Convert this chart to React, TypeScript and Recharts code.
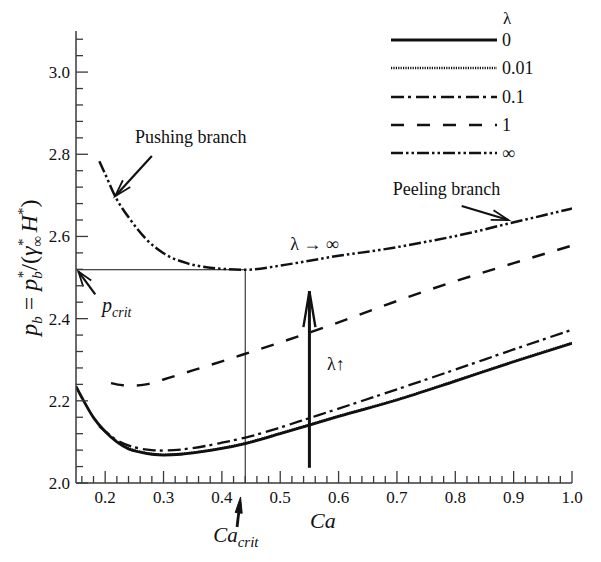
import React from 'react';
import { LineChart, Line, XAxis, YAxis, ReferenceLine, ReferenceDot, Legend } from 'recharts';

// ---- data ----
const ca0 = [0.15, 0.16, 0.18, 0.20, 0.22, 0.24, 0.26, 0.28, 0.30, 0.33, 0.36, 0.40, 0.44, 0.50, 0.55, 0.60, 0.70, 0.80, 0.90, 1.00];
const p0 = [2.235, 2.208, 2.159, 2.125, 2.100, 2.083, 2.075, 2.070, 2.068, 2.070, 2.075, 2.084, 2.096, 2.120, 2.141, 2.162, 2.202, 2.248, 2.295, 2.340];

const ca001 = [0.19, 0.20, 0.22, 0.24, 0.26, 0.28, 0.30, 0.33, 0.36, 0.40, 0.44, 0.50, 0.55, 0.60, 0.70, 0.80, 0.90, 1.00];
const p001 = [2.140, 2.126, 2.101, 2.085, 2.076, 2.071, 2.069, 2.071, 2.076, 2.085, 2.097, 2.121, 2.142, 2.163, 2.203, 2.249, 2.296, 2.341];

const ca01 = [0.19, 0.20, 0.22, 0.25, 0.28, 0.30, 0.35, 0.40, 0.45, 0.50, 0.55, 0.60, 0.70, 0.80, 0.90, 1.00];
const p01 = [2.138, 2.126, 2.104, 2.087, 2.080, 2.079, 2.085, 2.098, 2.114, 2.135, 2.158, 2.181, 2.228, 2.276, 2.325, 2.373];

const ca1 = [0.21, 0.23, 0.25, 0.27, 0.30, 0.35, 0.40, 0.45, 0.50, 0.55, 0.60, 0.65, 0.70, 0.80, 0.90, 1.00];
const p1 = [2.243, 2.238, 2.237, 2.240, 2.252, 2.274, 2.296, 2.319, 2.342, 2.366, 2.391, 2.417, 2.443, 2.491, 2.535, 2.578];

const caInf = [0.19, 0.20, 0.217, 0.243, 0.27, 0.30, 0.34, 0.38, 0.44, 0.50, 0.55, 0.60, 0.67, 0.75, 0.82, 0.89, 0.95, 1.00];
const pInf = [2.783, 2.752, 2.698, 2.641, 2.594, 2.559, 2.535, 2.524, 2.519, 2.529, 2.541, 2.553, 2.567, 2.587, 2.607, 2.631, 2.651, 2.668];

const seriesNames = ['0', '0.01', '0.1', '1', '∞'];

const xTicks = [0.16, 0.18, 0.2, 0.22, 0.24, 0.26, 0.28, 0.3, 0.32, 0.34, 0.36, 0.38, 0.4, 0.42, 0.44, 0.46, 0.48, 0.5,
  0.52, 0.54, 0.56, 0.58, 0.6, 0.62, 0.64, 0.66, 0.68, 0.7, 0.72, 0.74, 0.76, 0.78, 0.8, 0.82, 0.84, 0.86, 0.88, 0.9,
  0.92, 0.94, 0.96, 0.98, 1.0];
const yTicks = [2.0, 2.04, 2.08, 2.12, 2.16, 2.2, 2.24, 2.28, 2.32, 2.36, 2.4, 2.44, 2.48, 2.52, 2.56, 2.6, 2.64, 2.68,
  2.72, 2.76, 2.8, 2.84, 2.88, 2.92, 2.96, 3.0, 3.04, 3.08];

const caCrit = 0.44;
const pCrit = 2.519;

// ---- styles ----
const FONT = "'Liberation Serif', 'Times New Roman', serif";
const INK = '#111';
const AXIS = '#3a3a3a';

const build = (xs: number[], ys: number[]) => xs.map((ca, i) => ({ ca, p: ys[i] }));
const seriesData = [build(ca0, p0), build(ca001, p001), build(ca01, p01), build(ca1, p1), build(caInf, pInf)];
const seriesStyle = [
  { dash: undefined as string | undefined, w: 2.8 },
  { dash: '1.2 1.2', w: 2.4 },
  { dash: '13 4 3 5', w: 2.3 },
  { dash: '13 13', w: 2.5 },
  { dash: '12 3 2.5 3 2.5 3', w: 2.5 },
];

const XTick = (props: any) => {
  const { x, y, payload } = props;
  const v = payload.value as number;
  const major = Math.abs(v * 10 - Math.round(v * 10)) < 1e-6;
  return (
    <g>
      <line x1={x} y1={y} x2={x} y2={y - (major ? 12 : 7)} stroke={AXIS} strokeWidth={1.3} />
      {major && (
        <text x={x} y={y + 20} textAnchor="middle" style={{ fontFamily: FONT }} fontSize={17} fill={INK}>
          {v.toFixed(1)}
        </text>
      )}
    </g>
  );
};

const YTick = (props: any) => {
  const { x, y, payload } = props;
  const v = payload.value as number;
  const k = (v - 2.0) / 0.2;
  const major = Math.abs(k - Math.round(k)) < 1e-6;
  return (
    <g>
      <line x1={x} y1={y} x2={x + (major ? 12 : 7)} y2={y} stroke={AXIS} strokeWidth={1.3} />
      {major && (
        <text x={x - 6} y={y + 6} textAnchor="end" style={{ fontFamily: FONT }} fontSize={17} fill={INK}>
          {v.toFixed(1)}
        </text>
      )}
    </g>
  );
};

const makeArrow = (len: number, halfW: number, w: number, filled = false) => (props: any) => {
  const { x1, y1, x2, y2 } = props;
  const dx = x2 - x1;
  const dy = y2 - y1;
  const d = Math.hypot(dx, dy) || 1;
  const ux = dx / d;
  const uy = dy / d;
  const bx = x2 - ux * len;
  const by = y2 - uy * len;
  const px = -uy * halfW;
  const py = ux * halfW;
  return (
    <g>
      <line x1={x1} y1={y1} x2={filled ? bx : x2} y2={filled ? by : y2} stroke={INK} strokeWidth={w} />
      <path
        d={`M${bx + px},${by + py} L${x2},${y2} L${bx - px},${by - py}${filled ? ' Z' : ''}`}
        fill={filled ? INK : 'none'}
        stroke={INK}
        strokeWidth={filled ? 1 : w * 0.8}
        strokeLinejoin="miter"
      />
    </g>
  );
};

const textAt = (content: React.ReactNode, anchor: string = 'start', size = 18, italic = false, rotate = 0) =>
  (props: any) => (
    <text
      x={props.cx}
      y={props.cy}
      textAnchor={anchor}
      style={{ fontFamily: FONT }}
      fontSize={size}
      fontStyle={italic ? 'italic' : 'normal'}
      fill={INK}
      transform={rotate ? `rotate(${rotate} ${props.cx} ${props.cy})` : undefined}
    >
      {content}
    </text>
  );

const yLabel = (
  <>
    <tspan fontStyle="italic">p</tspan>
    <tspan fontStyle="italic" fontSize={15} dy={5}>b</tspan>
    <tspan dy={-5}> = </tspan>
    <tspan fontStyle="italic">p</tspan>
    <tspan fontStyle="italic" fontSize={15} dy={5}>b</tspan>
    <tspan fontSize={15} dx={-7} dy={-14}>*</tspan>
    <tspan dy={9}>/(</tspan>
    <tspan fontStyle="italic">γ</tspan>
    <tspan fontSize={15} dy={5}>∞</tspan>
    <tspan fontSize={15} dx={-10} dy={-14}>*</tspan>
    <tspan dy={9} fontStyle="italic"> H</tspan>
    <tspan fontSize={15} dy={-9}>*</tspan>
    <tspan dy={9}>)</tspan>
  </>
);

const LegendBox = () => {
  const rows = [40, 68, 97, 125, 153];
  return (
    <svg width={601} height={175} style={{ overflow: 'visible' }}>
      <text x={507} y={24} textAnchor="middle" style={{ fontFamily: FONT }} fontSize={17} fill={INK}>λ</text>
      {seriesNames.map((n, i) => (
        <g key={n}>
          <line x1={391} y1={rows[i]} x2={497} y2={rows[i]} stroke={INK}
            strokeWidth={seriesStyle[i].w} strokeDasharray={seriesStyle[i].dash} />
          <text x={502} y={rows[i] + 6} style={{ fontFamily: FONT }} fontSize={18} fill={INK}>{n}</text>
        </g>
      ))}
    </svg>
  );
};

export default function App() {
  return (
    <div style={{ position: 'absolute', left: 0, top: 0, width: 601, height: 562, background: '#fff' }}>
      <LineChart width={601} height={562} margin={{ top: 31, right: 29, bottom: 78, left: 75 }}>
        <XAxis
          type="number"
          dataKey="ca"
          domain={[0.15, 1.0]}
          allowDataOverflow
          ticks={xTicks}
          interval={0}
          tickSize={0}
          tickMargin={0}
          tickLine={false}
          tick={<XTick />}
          height={1}
          axisLine={{ stroke: AXIS, strokeWidth: 1.5 }}
        />
        <YAxis
          type="number"
          dataKey="p"
          domain={[2.0, 3.1]}
          allowDataOverflow
          ticks={yTicks}
          interval={0}
          tickSize={0}
          tickMargin={0}
          tickLine={false}
          tick={<YTick />}
          width={1}
          axisLine={{ stroke: AXIS, strokeWidth: 1.5 }}
        />
        <Legend layout="vertical" align="center" verticalAlign="middle" content={<LegendBox />}
          wrapperStyle={{ position: 'absolute', left: 0, top: 0, width: 601, height: 175 }} />

        <ReferenceLine segment={[{ x: 0.15, y: pCrit }, { x: caCrit, y: pCrit }]} stroke={INK} strokeWidth={1} ifOverflow="visible" />
        <ReferenceLine segment={[{ x: caCrit, y: 2.0 }, { x: caCrit, y: pCrit }]} stroke={INK} strokeWidth={1} ifOverflow="visible" />

        {seriesData.map((d, i) => (
          <Line
            key={seriesNames[i]}
            name={seriesNames[i]}
            data={d}
            dataKey="p"
            type="monotone"
            stroke={INK}
            strokeWidth={seriesStyle[i].w}
            strokeDasharray={seriesStyle[i].dash}
            dot={false}
            activeDot={false}
            isAnimationActive={false}
          />
        ))}

        {/* arrows */}
        <ReferenceLine segment={[{ x: 0.55, y: 2.037 }, { x: 0.55, y: 2.467 }]} ifOverflow="visible" shape={makeArrow(36, 6, 3)} />
        <ReferenceLine segment={[{ x: 0.280, y: 2.796 }, { x: 0.217, y: 2.698 }]} ifOverflow="visible" shape={makeArrow(17, 5, 2.2)} />
        <ReferenceLine segment={[{ x: 0.811, y: 2.674 }, { x: 0.891, y: 2.640 }]} ifOverflow="visible" shape={makeArrow(17, 5, 2.2)} />
        <ReferenceLine segment={[{ x: 0.183, y: 2.459 }, { x: 0.154, y: 2.515 }]} ifOverflow="visible" shape={makeArrow(15, 5, 2.2)} />
        <ReferenceLine segment={[{ x: 0.426, y: 1.893 }, { x: 0.432, y: 1.966 }]} ifOverflow="visible" shape={makeArrow(16, 3.5, 2.8, true)} />

        {/* labels */}
        <ReferenceDot x={0.251} y={2.827} ifOverflow="visible" shape={textAt('Pushing branch')} />
        <ReferenceDot x={0.693} y={2.700} ifOverflow="visible" shape={textAt('Peeling branch')} />
        <ReferenceDot x={0.517} y={2.566} ifOverflow="visible" shape={textAt('λ  →  ∞')} />
        <ReferenceDot x={0.580} y={2.276} ifOverflow="visible" shape={textAt('λ↑')} />
        <ReferenceDot x={0.1946} y={2.417} ifOverflow="visible"
          shape={textAt(<><tspan>p</tspan><tspan fontSize={14} dy={5}>crit</tspan></>, 'start', 20, true)} />
        <ReferenceDot x={0.385} y={1.856} ifOverflow="visible"
          shape={textAt(<><tspan>Ca</tspan><tspan fontSize={15} dy={5}>crit</tspan></>, 'start', 21, true)} />
        <ReferenceDot x={0.573} y={1.890} ifOverflow="visible" shape={textAt('Ca', 'middle', 22, true)} />
        <ReferenceDot x={0.083} y={2.524} ifOverflow="visible" shape={textAt(yLabel, 'middle', 24, false, -90)} />
      </LineChart>
    </div>
  );
}
